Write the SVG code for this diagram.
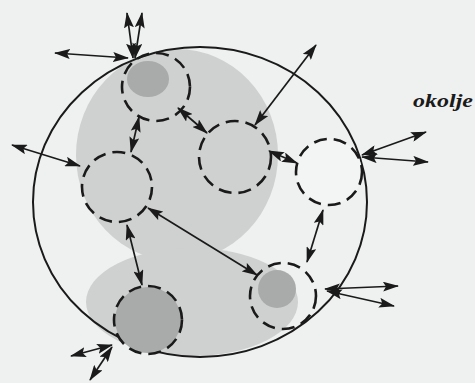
<svg xmlns="http://www.w3.org/2000/svg" width="475" height="383" viewBox="0 0 475 383">
<style>
.blob{fill:#cfd0d0;stroke:none}
.dark{fill:#a9aaaa;stroke:none}
.cell{fill:none;stroke:#1a1a1a;stroke-width:2.6;stroke-dasharray:13 7}
.bound{fill:none;stroke:#1a1a1a;stroke-width:2}
.arr{fill:none;stroke:#1a1a1a;stroke-width:1.7;marker-start:url(#ah);marker-end:url(#ah)}
.lbl{font-family:"Liberation Serif","Times New Roman",serif;font-style:italic;font-weight:bold;font-size:19px;fill:#1a1a1a}
</style>
<defs>
<marker id="ah" viewBox="0 0 16 10" refX="15" refY="5" markerWidth="16" markerHeight="10" markerUnits="userSpaceOnUse" orient="auto-start-reverse">
<path d="M0,0 L16,5 L0,10 L3,5 z" fill="#1a1a1a"/>
</marker>
</defs>
<rect width="475" height="383" fill="#eff0f0"/>
<g id="blobs">
<ellipse class="blob" cx="177" cy="155" rx="101" ry="106"/>
<ellipse class="blob" cx="192" cy="302" rx="106" ry="54"/>
</g>
<g id="system">
<ellipse class="bound" cx="200" cy="202" rx="167" ry="155"/>
</g>
<g id="n1">
<ellipse class="dark" cx="148" cy="79" rx="21" ry="18"/>
<circle class="cell" cx="156" cy="87" r="34"/>
</g>
<g id="n2">
<circle class="cell" cx="235" cy="157" r="36"/>
</g>
<g id="n3">
<circle class="cell" cx="117" cy="187" r="35"/>
</g>
<g id="n4">
<circle cx="329" cy="172" r="33" fill="#f3f4f4"/>
<circle class="cell" cx="329" cy="172" r="33"/>
</g>
<g id="n5">
<circle class="dark" cx="277" cy="289" r="19"/>
<circle class="cell" cx="283" cy="296" r="33"/>
</g>
<g id="n6">
<circle class="dark" cx="148" cy="320" r="33"/>
<circle class="cell" cx="148" cy="320" r="34"/>
</g>
<g id="connectors">
<line class="arr" x1="55" y1="53" x2="128" y2="58"/>
<line class="arr" x1="127" y1="13" x2="133" y2="58"/>
<line class="arr" x1="142" y1="13" x2="135" y2="58"/>
<line class="arr" x1="12" y1="145" x2="80" y2="166"/>
<line class="arr" x1="139" y1="117" x2="131" y2="152"/>
<line class="arr" x1="178" y1="108" x2="207" y2="133"/>
<line class="arr" x1="255" y1="125" x2="316" y2="45"/>
<line class="arr" x1="269" y1="151" x2="297" y2="163"/>
<line class="arr" x1="362" y1="155" x2="426" y2="132"/>
<line class="arr" x1="362" y1="157" x2="428" y2="162"/>
<line class="arr" x1="323" y1="210" x2="307" y2="262"/>
<line class="arr" x1="148" y1="208" x2="257" y2="275"/>
<line class="arr" x1="127" y1="225" x2="142" y2="285"/>
<line class="arr" x1="325" y1="289" x2="398" y2="286"/>
<line class="arr" x1="327" y1="291" x2="394" y2="306"/>
<line class="arr" x1="112" y1="345" x2="71" y2="356"/>
<line class="arr" x1="112" y1="347" x2="90" y2="380"/>
</g>
<text class="lbl" x="413" y="107" textLength="60" lengthAdjust="spacingAndGlyphs">okolje</text>
</svg>
